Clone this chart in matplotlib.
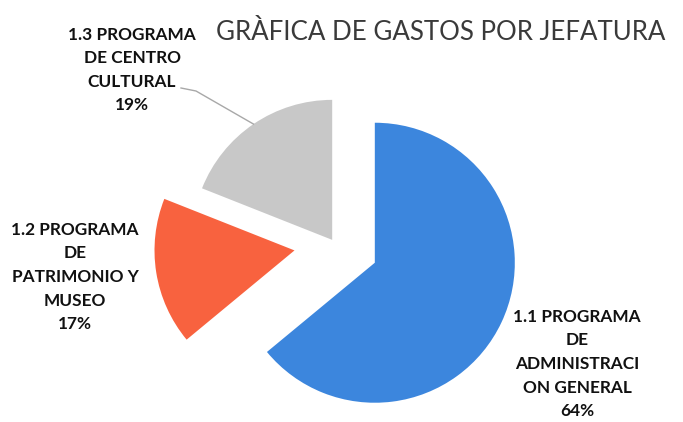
import numpy as np
import matplotlib
matplotlib.use("Agg")
import matplotlib.pyplot as plt

# data
categories = ["1.1 PROGRAMA\nDE\nADMINISTRACI\nON GENERAL",
              "1.2 PROGRAMA\nDE\nPATRIMONIO Y\nMUSEO",
              "1.3 PROGRAMA\nDE CENTRO\nCULTURAL"]
shares = [64, 17, 19]
title = "GRÀFICA DE GASTOS POR JEFATURA"

colors = ["#3C86DD", "#F8623F", "#C8C8C8"]
W, H = 683, 422

fig = plt.figure(figsize=(W / 100, H / 100), dpi=100)
ax = fig.add_axes([0, 0, 1, 1])

cx, cy, r = 335, H - 244, 140
wedges, _ = ax.pie(shares, colors=colors, startangle=90, counterclock=False,
                   center=(cx, cy), radius=r, explode=[44, 41, 5],
                   wedgeprops=dict(linewidth=0))
ax.set_xlim(0, W)
ax.set_ylim(0, H)
ax.set_aspect("auto")
ax.axis("off")

font = ["Lato", "DejaVu Sans"]
# label positions (screen px, top-left origin) for each slice
label_pos = [(577, 364), (75, 277), (132, 70)]
for name, val, (lx, ly) in zip(categories, shares, label_pos):
    ax.text(lx, H - ly, "{}\n{}%".format(name, val), ha="center", va="center",
            fontsize=12.4, fontweight="bold", family=font, linespacing=1.58,
            color="#111111")

# leader line for the grey slice
g = wedges[2]
tm = np.deg2rad((g.theta1 + g.theta2) / 2)
ex, ey = g.center[0] + r * np.cos(tm), g.center[1] + r * np.sin(tm)
ax.plot([181, 196, ex], [H - 88, H - 91, ey], color="#A8A8A8", lw=1)

ax.text(441, H - 32, title, ha="center", va="center", fontsize=18.6,
        family=font, color="#3A3A3A")

fig.savefig("out.png", dpi=100)
